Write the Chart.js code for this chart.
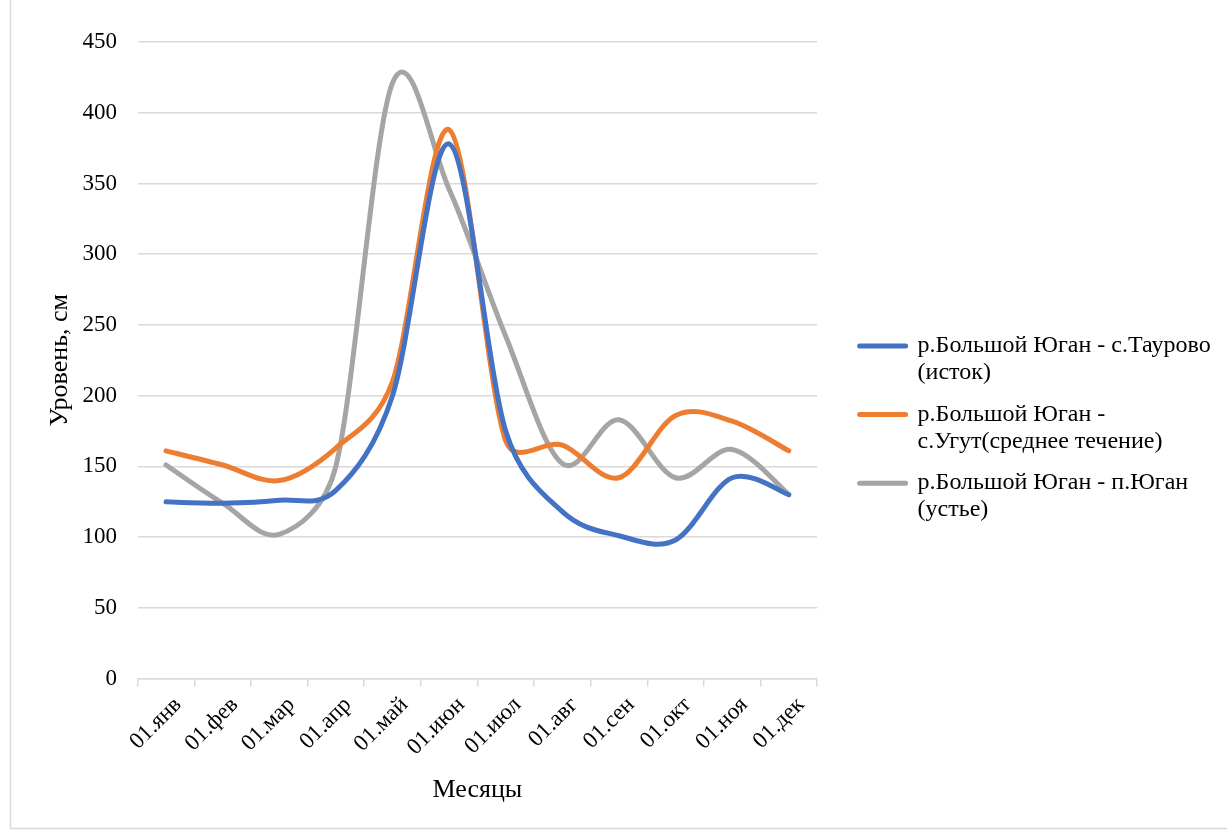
<!DOCTYPE html>
<html lang="ru">
<head>
<meta charset="utf-8">
<title>Уровень воды, р.Большой Юган</title>
<script src="https://cdn.jsdelivr.net/npm/chart.js@4.4.1/dist/chart.umd.min.js"></script>
<style>
  html, body { margin: 0; padding: 0; background: #ffffff; }
  #wrap { width: 1227px; height: 830px; position: relative; }
</style>
</head>
<body>
<div id="wrap"><canvas id="chart" width="1227" height="830"></canvas></div>
<script>
// Месяцы (категории оси X)
const months = ['01.янв', '01.фев', '01.мар', '01.апр', '01.май', '01.июн',
                '01.июл', '01.авг', '01.сен', '01.окт', '01.ноя', '01.дек'];

// Уровень воды, см
const taurovo = [125, 124, 126, 133, 200, 378, 175, 118, 101, 98, 142, 130];
const ugut    = [161, 151, 140, 163, 210, 388, 168, 165, 142, 186, 182, 161];
const yugan   = [151, 124, 102, 150, 421, 346, 242, 152, 183, 142, 162, 130];

// Подписи рядов (по строкам в легенде)
const nameTaurovo = ['р.Большой Юган - с.Таурово', '(исток)'];
const nameUgut    = ['р.Большой Юган -', 'с.Угут(среднее течение)'];
const nameYugan   = ['р.Большой Юган - п.Юган', '(устье)'];

// Деления оси Y
const yMin = 0, yMax = 450, yStep = 50;

const colors = ['#4472C4', '#ED7D31', '#A5A5A5'];
const FONT = "'Liberation Serif', 'Times New Roman', serif";
const GRID = '#d9d9d9';
const LEGEND_WIDTH = 382;

function series(name, data, color) {
  return {
    label: name.join(' '),
    lines: name,
    data: data,
    borderColor: color,
    backgroundColor: color,
    borderWidth: 5,
    borderCapStyle: 'round',
    borderJoinStyle: 'round',
    pointRadius: 0,
    pointHoverRadius: 0,
    tension: 0.4,
    fill: false
  };
}

// Рамка области диаграммы
const frame = {
  id: 'frame',
  beforeDraw(chart) {
    const ctx = chart.ctx;
    ctx.save();
    ctx.fillStyle = '#ffffff';
    ctx.fillRect(0, 0, chart.width, chart.height);
    ctx.strokeStyle = GRID;
    ctx.lineWidth = 1.5;
    ctx.strokeRect(10.5, -5, chart.width + 20, chart.height + 3.5);
    ctx.restore();
  }
};

// Сглаживание кривых: касательная = 1/6 хорды между соседями,
// длина «ручки» не больше половины прилегающего отрезка
const smoothCurves = {
  id: 'smoothCurves',
  beforeDatasetDraw(chart, args) {
    const meta = args.meta;
    const line = meta.dataset;
    const pts = meta.data;
    if (!line || !pts.length) return;
    line.updateControlPoints(chart.chartArea, meta.indexAxis);
    const n = pts.length;
    const dist = (a, b) => Math.hypot(b.x - a.x, b.y - a.y);
    for (let i = 0; i < n; i++) {
      const p = pts[i];
      const prev = pts[Math.max(i - 1, 0)];
      const next = pts[Math.min(i + 1, n - 1)];
      const tx = (next.x - prev.x) / 6;
      const ty = (next.y - prev.y) / 6;
      const t = Math.hypot(tx, ty) || 1;
      const kBack = Math.min(1, 0.5 * dist(prev, p) / t);
      const kFwd = Math.min(1, 0.5 * dist(p, next) / t);
      p.cp1x = p.x - tx * kBack; p.cp1y = p.y - ty * kBack;
      p.cp2x = p.x + tx * kFwd;  p.cp2y = p.y + ty * kFwd;
    }
    line._path = undefined;
  }
};

// Легенда справа фиксированной ширины (без ограничения в половину холста)
const wideLegend = {
  id: 'wideLegend',
  beforeLayout(chart) {
    const lg = chart.legend;
    if (lg && !lg._fixedWidth) {
      const baseUpdate = lg.update;
      lg.update = function (maxWidth, maxHeight, margins) {
        baseUpdate.call(this, LEGEND_WIDTH, maxHeight, margins);
        this.width = LEGEND_WIDTH;
      };
      lg._fixedWidth = true;
    }
  }
};

new Chart(document.getElementById('chart'), {
  type: 'line',
  data: {
    labels: months,
    datasets: [
      series(nameTaurovo, taurovo, colors[0]),
      series(nameUgut, ugut, colors[1]),
      series(nameYugan, yugan, colors[2])
    ]
  },
  plugins: [frame, smoothCurves, wideLegend],
  options: {
    responsive: false,
    animation: false,
    devicePixelRatio: 1,
    layout: { padding: { top: 42, bottom: 12.8, left: 10, right: 0 } },
    plugins: {
      tooltip: { enabled: false },
      legend: {
        position: 'right',
        align: 'center',
        labels: {
          font: { family: FONT, size: 24, lineHeight: 1.125 },
          color: '#000000',
          usePointStyle: true,
          pointStyleWidth: 46,
          padding: 14.6,
          generateLabels(chart) {
            return chart.data.datasets.map((ds, i) => ({
              text: ds.lines,
              fillStyle: ds.borderColor,
              strokeStyle: ds.borderColor,
              lineWidth: 5,
              lineCap: 'round',
              pointStyle: 'line',
              fontColor: '#000000',
              hidden: false,
              datasetIndex: i
            }));
          }
        }
      }
    },
    scales: {
      x: {
        type: 'category',
        offset: true,
        grid: {
          offset: true,
          drawOnChartArea: false,
          drawTicks: true,
          tickLength: 8,
          color: GRID,
          lineWidth: 1.5
        },
        border: { display: true, color: GRID, width: 1.5 },
        ticks: {
          font: { family: FONT, size: 23 },
          color: '#000000',
          minRotation: 45,
          maxRotation: 45,
          padding: 5,
          labelOffset: 12,
          autoSkip: false
        },
        title: {
          display: true,
          text: 'Месяцы',
          font: { family: FONT, size: 26 },
          color: '#000000',
          padding: { top: 0, bottom: 11.6 }
        },
        afterFit(scale) { scale.height = 138.6; }
      },
      y: {
        type: 'linear',
        position: 'left',
        min: yMin,
        max: yMax,
        ticks: {
          stepSize: yStep,
          font: { family: FONT, size: 23 },
          color: '#000000',
          padding: 20.7
        },
        grid: { color: GRID, lineWidth: 1.5, drawTicks: false },
        border: { display: false },
        title: {
          display: true,
          text: 'Уровень, см',
          font: { family: FONT, size: 26 },
          color: '#000000',
          padding: { top: 34.4, bottom: 0 }
        },
        afterFit(scale) { scale.width = 127.7; }
      },
      gap: {
        type: 'linear',
        position: 'right',
        display: true,
        ticks: { display: false },
        grid: { display: false, drawTicks: false },
        border: { display: false },
        afterFit(scale) { scale.width = 27.9; }
      }
    }
  }
});
</script>
</body>
</html>
